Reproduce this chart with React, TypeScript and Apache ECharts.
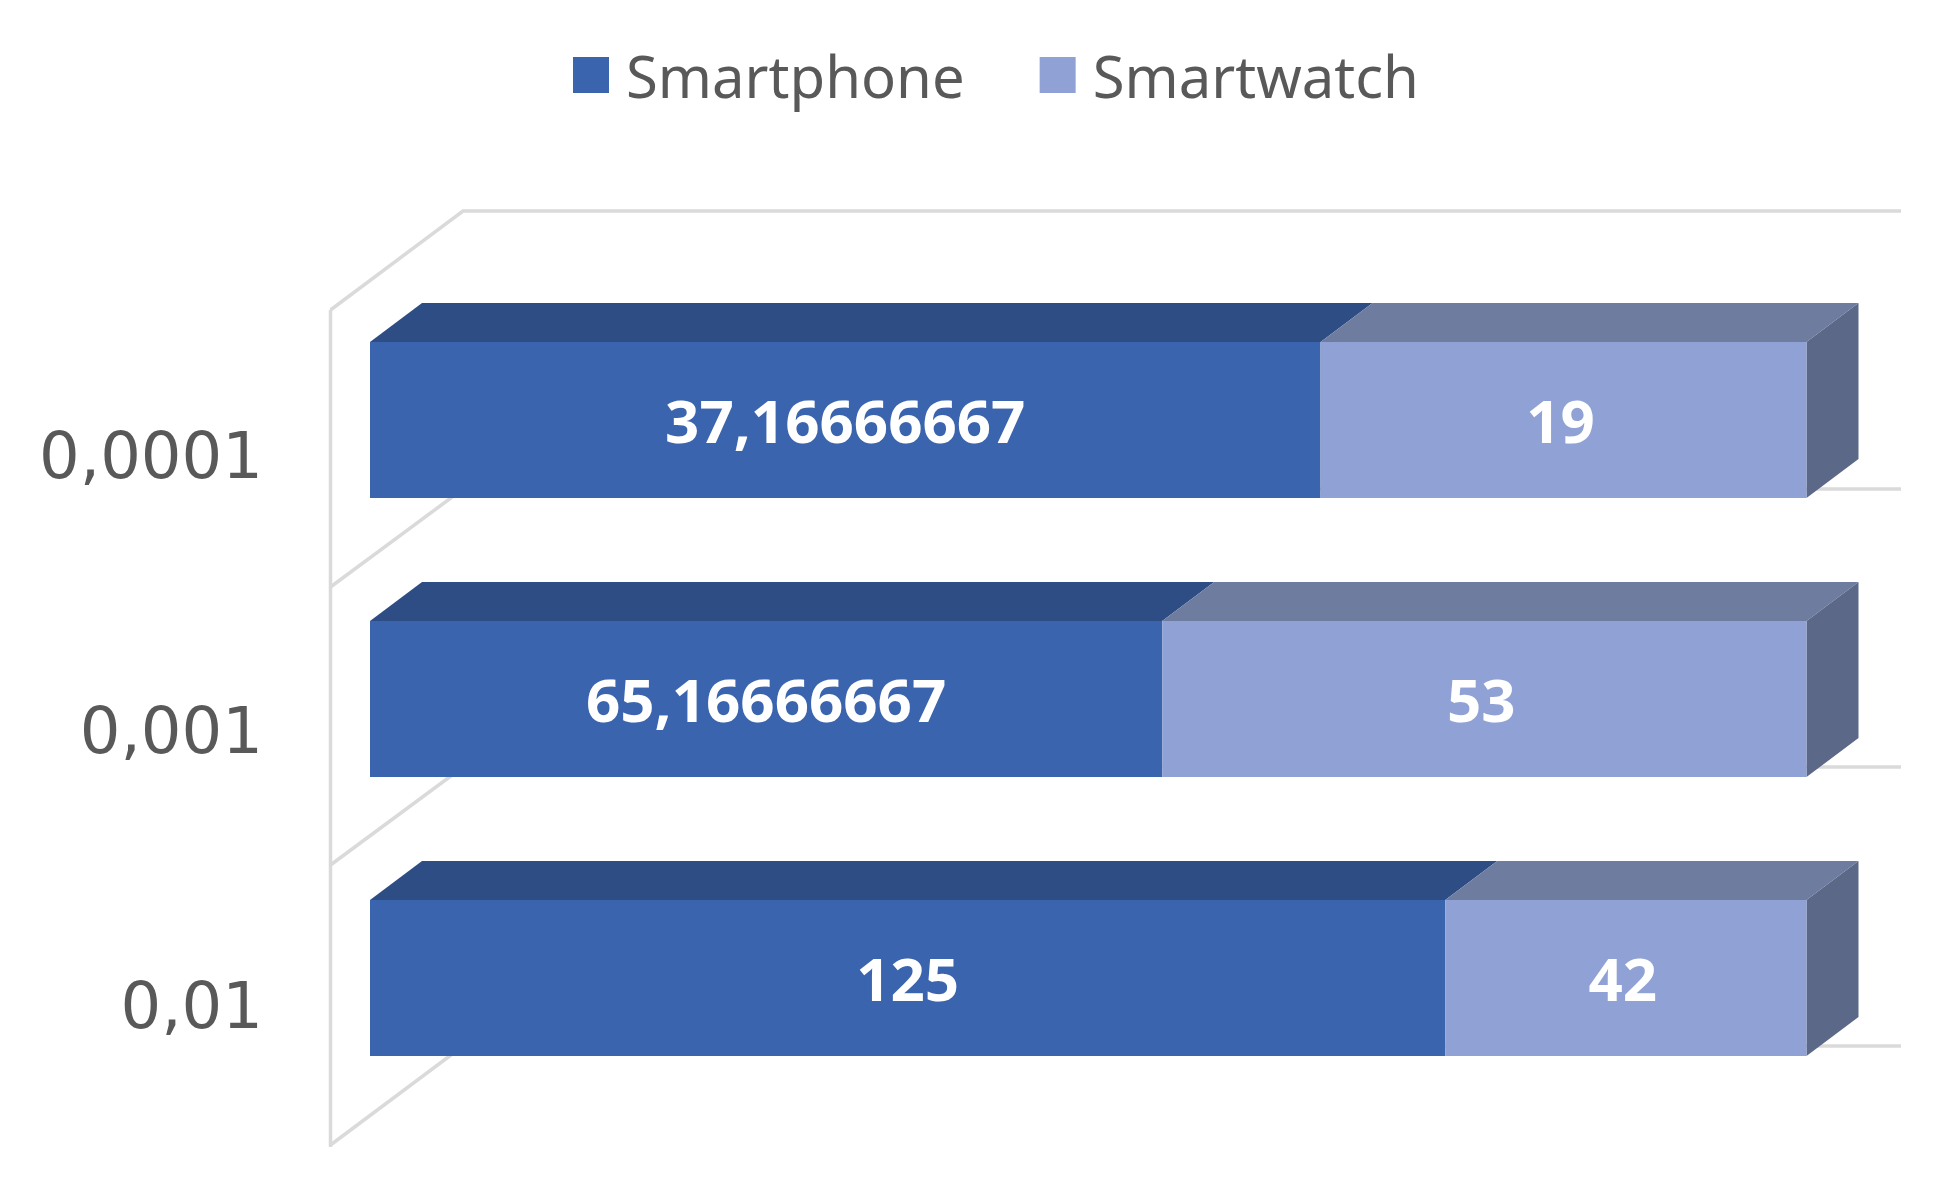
import React, { useEffect, useRef } from "react";
import * as echarts from "echarts";

const categories = ["0,01", "0,001", "0,0001"];
const smartphone = [125, 65.16666667, 37.16666667];
const smartwatch = [42, 53, 19];
const seriesNames = ["Smartphone", "Smartwatch"];

const FRONT = ["#3A64AD", "#90A2D5"];
const TOP = ["#2D4D84", "#6E7C9F"];
const SIDE = "#5B6888";
const WALL = "#DADADA";

const DX = 52;
const DY = 39;
const BAR_H = 156;

const fmt = (v: number) => String(v).replace(".", ",");
const share = (a: number, b: number) => a / (a + b);

function depthItem(params: any, api: any) {
  const start = api.value(0);
  const end = api.value(1);
  const cat = api.value(2);
  const s = api.value(3);
  const [x0, cy] = api.coord([start, cat]);
  const [x1] = api.coord([end, cat]);
  const yt = cy - BAR_H / 2;
  const yb = cy + BAR_H / 2;
  const children: any[] = [
    {
      type: "polygon",
      shape: { points: [[x0, yt], [x0 + DX, yt - DY], [x1 + DX, yt - DY], [x1, yt]] },
      style: { fill: TOP[s] },
    },
  ];
  if (s === 1) {
    children.push({
      type: "polygon",
      shape: { points: [[x1, yt], [x1 + DX, yt - DY], [x1 + DX, yb - DY], [x1, yb]] },
      style: { fill: SIDE },
    });
  }
  return { type: "group", children };
}

const wallLine = (points: number[][]) => ({
  type: "polyline",
  z: 0,
  silent: true,
  shape: { points },
  style: { stroke: WALL, lineWidth: 3.5, fill: "none" },
});

export default function App() {
  const ref = useRef<HTMLDivElement>(null);
  useEffect(() => {
    const chart = echarts.init(ref.current!, undefined, { renderer: "svg" });
    const shares = smartphone.map((v, i) => share(v, smartwatch[i]));
    const depthData: number[][] = [];
    shares.forEach((p, i) => {
      depthData.push([0, p, i, 0]);
      depthData.push([p, 1, i, 1]);
    });
    const labelBase = {
      show: true,
      position: "inside" as const,
      color: "#FFFFFF",
      fontFamily: "Noto Sans",
      fontWeight: "bold" as const,
      fontSize: 60,
    };
    chart.setOption({
      animation: false,
      backgroundColor: "#FFFFFF",
      legend: {
        left: 573,
        top: 46,
        padding: 0,
        itemWidth: 36,
        itemHeight: 36,
        itemGap: 75,
        icon: "rect",
        data: seriesNames,
        textStyle: {
          fontFamily: "Noto Sans",
          fontSize: 58,
          color: "#595959",
          padding: [0, 0, 5, 12],
        },
      },
      grid: [
        { left: 370, width: 1436.5, top: 280.5, height: 837 },
        { left: 331, width: 1400, top: 318, height: 825 },
      ],
      xAxis: [
        { type: "value", gridIndex: 0, min: 0, max: 1, show: false },
        { type: "value", gridIndex: 1, min: 0, max: 1, show: false },
      ],
      yAxis: [
        { type: "category", gridIndex: 0, data: categories, show: false },
        {
          type: "category",
          gridIndex: 1,
          data: categories,
          axisLine: { show: false },
          axisTick: { show: false },
          axisLabel: {
            margin: 68,
            fontFamily: "DejaVu Sans",
            fontSize: 64,
            color: "#595959",
          },
        },
      ],
      graphic: {
        elements: [
          wallLine([[330.5, 310], [330.5, 1147]]),
          wallLine([[330.5, 310], [463, 211], [1901, 211]]),
          wallLine([[330.5, 587], [463, 489], [1901, 489]]),
          wallLine([[330.5, 865], [463, 767], [1901, 767]]),
          wallLine([[330.5, 1145], [463, 1046], [1901, 1046]]),
        ],
      },
      series: [
        {
          type: "custom",
          xAxisIndex: 0,
          yAxisIndex: 0,
          z: 3,
          silent: true,
          renderItem: depthItem,
          data: depthData,
          encode: { x: [0, 1], y: 2 },
        },
        {
          name: seriesNames[0],
          type: "bar",
          xAxisIndex: 0,
          yAxisIndex: 0,
          stack: "total",
          z: 4,
          barWidth: BAR_H,
          itemStyle: { color: FRONT[0] },
          label: { ...labelBase, formatter: (p: any) => fmt(smartphone[p.dataIndex]) },
          data: shares,
        },
        {
          name: seriesNames[1],
          type: "bar",
          xAxisIndex: 0,
          yAxisIndex: 0,
          stack: "total",
          z: 4,
          barWidth: BAR_H,
          itemStyle: { color: FRONT[1] },
          label: {
            ...labelBase,
            offset: [-3, 0],
            formatter: (p: any) => fmt(smartwatch[p.dataIndex]),
          },
          data: shares.map((p) => 1 - p),
        },
      ],
    });
    return () => chart.dispose();
  }, []);
  return (
    <div
      ref={ref}
      style={{ position: "fixed", left: 0, top: 0, width: 1947, height: 1187 }}
    />
  );
}
